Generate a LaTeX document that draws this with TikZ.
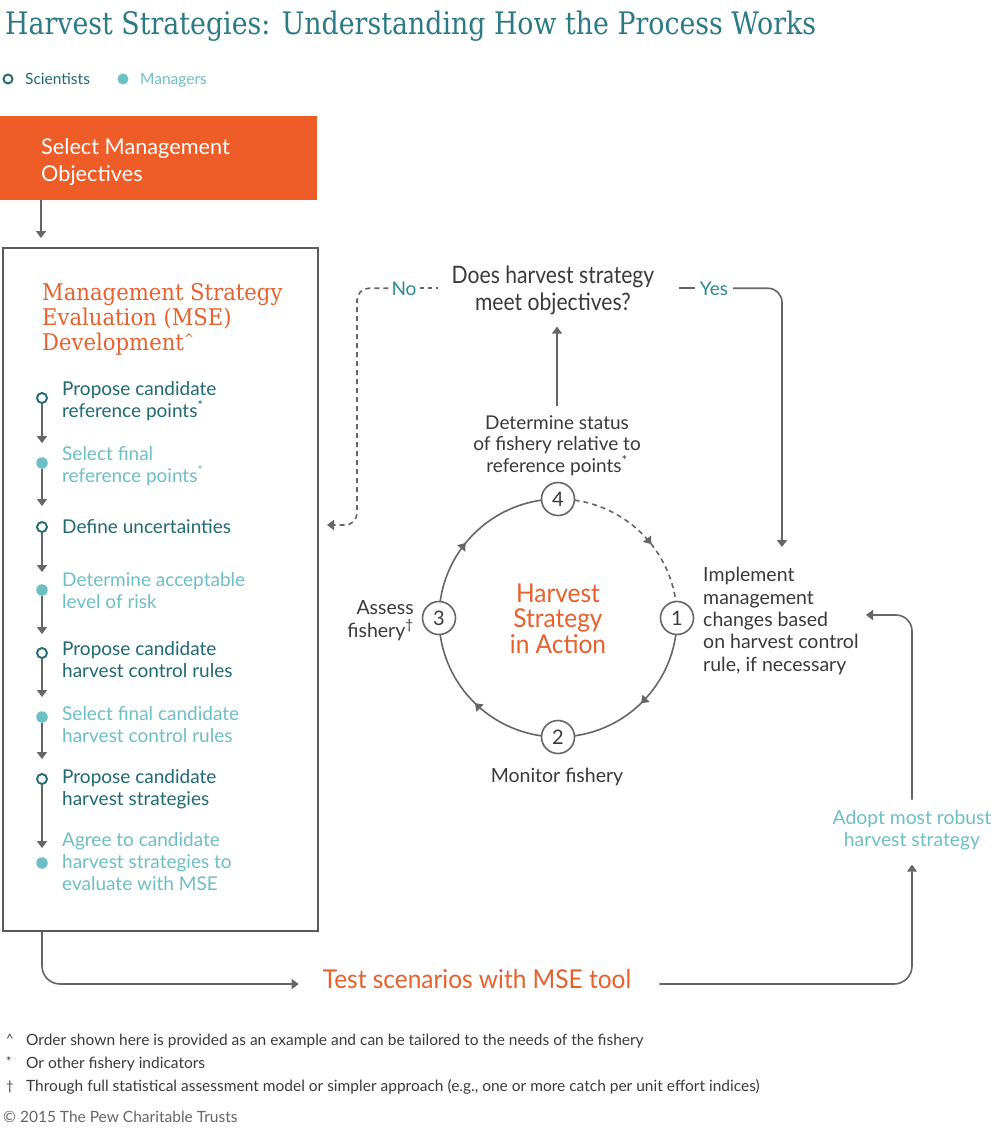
\documentclass[tikz,border=0pt]{standalone}
\usepackage{fontspec}
\setmainfont{Lato}
\newfontfamily\slabT[FakeStretch=0.865]{DejaVu Serif}
\newfontfamily\slabH[FakeStretch=0.92]{DejaVu Serif}
\newfontfamily\condA[FakeStretch=0.88]{Lato}
\newfontfamily\condT[FakeStretch=0.94]{Lato}
\usetikzlibrary{arrows.meta,calc,decorations.markings}
\definecolor{ttl}{HTML}{2A7B85}
\definecolor{sci}{HTML}{1F6A73}
\definecolor{mgr}{HTML}{6DBFC6}
\definecolor{nyc}{HTML}{2C8A93}
\definecolor{org}{HTML}{E8602C}
\definecolor{orgfill}{HTML}{EE5D28}
\definecolor{lgrey}{HTML}{666666}
\definecolor{boxline}{HTML}{5A5A5A}
\definecolor{txt}{HTML}{3A3A3A}
\begin{document}
\begin{tikzpicture}[x=1pt,y=1pt,
  ln/.style={draw=lgrey, line width=1.6pt},
  arr/.style={ln, -{Triangle[width=10pt,length=7pt]}},
  dsh/.style={ln, dash pattern=on 5pt off 4pt},
  dsharr/.style={dsh, -{Triangle[width=10pt,length=7pt]}},
  sciopen/.style={circle, draw=sci, line width=1.9pt, fill=white, minimum size=10pt, inner sep=0pt},
  mgrdot/.style={circle, fill=mgr, minimum size=11.5pt, inner sep=0pt},
  itemtxt/.style={anchor=base west, align=left, inner sep=0pt, font=\fontsize{19}{22}\selectfont},
  num/.style={circle, draw=lgrey, line width=1.6pt, fill=white, minimum size=33pt, inner sep=0pt, text=txt, font=\fontsize{20}{24}\selectfont},
  body/.style={inner sep=0pt, text=txt, font=\fontsize{19.5}{22.3}\selectfont},
  foot/.style={anchor=base west, inner sep=0pt, text=txt, font=\fontsize{15.5}{18}\selectfont},
  footsym/.style={anchor=base west, inner sep=0pt, text=txt, font=\fontsize{13}{15}\selectfont},
  arcmark/.style={ln, postaction={decorate}, decoration={markings, mark=at position #1 with {\arrow{Triangle[width=10pt,length=7pt]}}}}
]
\fill[white] (0,0) rectangle (1001,-1129);
\useasboundingbox (0,0) rectangle (1001,-1129);

% title
\node[anchor=base west, inner sep=0pt, text=ttl, font=\slabT\fontsize{31}{36}\selectfont] (title) at (5,-35) {Harvest Strategies: Understanding How the Process Works};

% legend
\node[sciopen, minimum size=9pt] (lgs) at (8,-79) {};
\node[anchor=base west, inner sep=0pt, text=sci, font=\fontsize{15.5}{18}\selectfont] (lgst) at (25,-85) {Scientists};
\node[mgrdot, minimum size=11pt] (lgm) at (123,-79) {};
\node[anchor=base west, inner sep=0pt, text=mgr, font=\fontsize{15.5}{18}\selectfont] (lgmt) at (140,-85) {Managers};

% objectives box
\node[fill=orgfill, anchor=north west, minimum width=317pt, minimum height=84pt, inner sep=0pt] (obj) at (0,-116) {};
\node[anchor=base west, align=left, inner sep=0pt, text=white, font=\fontsize{21.7}{27}\selectfont] (objt) at (41,-181) {Select Management\\Objectives};

% MSE box
\node[draw=boxline, line width=1.8pt, minimum width=315pt, minimum height=683pt, anchor=north west, inner sep=0pt] (mse) at (2,-247) {};
\draw[arr] ([xshift=41pt]obj.south west) -- ([xshift=39pt,yshift=9pt]mse.north west);

\node[anchor=base west, align=left, inner sep=0pt, text=org, font=\slabH\fontsize{23}{25}\selectfont] (mseh) at (42,-350) {Management Strategy\\Evaluation (MSE)\\Development{\fontsize{13}{15}\selectfont\raisebox{7pt}{\textasciicircum}}};

% list items
\node[sciopen] (m1) at (42,-398) {};
\node[mgrdot] (m2) at (42,-463) {};
\node[sciopen] (m3) at (42,-527) {};
\node[mgrdot] (m4) at (42,-590) {};
\node[sciopen] (m5) at (42,-653) {};
\node[mgrdot] (m6) at (42,-717) {};
\node[sciopen] (m7) at (42,-779) {};
\node[mgrdot] (m8) at (42,-863) {};

\node[itemtxt, text=sci] (t1) at (62,-417) {Propose candidate\\reference points\textsuperscript{*}};
\node[itemtxt, text=mgr] (t2) at (62,-482) {Select final\\reference points\textsuperscript{*}};
\node[itemtxt, text=sci] (t3) at (62,-533) {Define uncertainties};
\node[itemtxt, text=mgr] (t4) at (62,-608) {Determine acceptable\\level of risk};
\node[itemtxt, text=sci] (t5) at (62,-677) {Propose candidate\\harvest control rules};
\node[itemtxt, text=mgr] (t6) at (62,-742) {Select final candidate\\harvest control rules};
\node[itemtxt, text=sci] (t7) at (62,-805) {Propose candidate\\harvest strategies};
\node[itemtxt, text=mgr] (t8) at (62,-890) {Agree to candidate\\harvest strategies to\\evaluate with MSE};

\draw[arr, shorten >=14pt] (m1) -- (m2);
\draw[arr, shorten >=15pt] (m2) -- (m3);
\draw[arr, shorten >=12pt] (m3) -- (m4);
\draw[arr, shorten >=13pt] (m4) -- (m5);
\draw[arr, shorten >=14pt] (m5) -- (m6);
\draw[arr, shorten >=14pt] (m6) -- (m7);
\draw[arr, shorten >=9pt] (m7) -- (m8);

% question
\node[anchor=base, align=center, inner sep=0pt, text=txt, font=\condA\fontsize{24}{27}\selectfont] (q) at (553,-310) {Does harvest strategy\\meet objectives?};
\node[anchor=base, inner sep=3pt, text=nyc, font=\fontsize{19}{22}\selectfont] (no) at (404,-295) {No};
\node[anchor=base, inner sep=5pt, text=nyc, font=\fontsize{19}{22}\selectfont] (yes) at (714,-295) {Yes};
\coordinate (nocorner) at (357,-525);
\coordinate (noend) at (327,-525);
\coordinate (yesend) at (782,-547);
\draw[dash pattern=on 4pt off 4pt, draw=lgrey, line width=1.6pt, shorten >=14pt] (no.east) -- (no.east -| q.west);
\draw[dsharr, rounded corners=12pt] (no.west) -| (nocorner) -- (noend);
\draw[ln] ([xshift=25pt]q.east |- yes.west) -- (yes.west);
\draw[arr, rounded corners=14pt] (yes.east) -| (yesend);

% status
\node[anchor=base, align=center, inner sep=0pt, text=txt, font=\fontsize{19}{21.5}\selectfont] (status) at (557,-472) {Determine status\\of fishery relative to\\reference points\textsuperscript{*}};
\draw[arr, shorten <=9pt, shorten >=12pt] (status.north) -- (status.north |- q.south);

% cycle
\coordinate (C) at (558,-618);
\draw[arcmark=0.42] ($(C)+(172:119)$) arc[start angle=172, end angle=98, radius=119];
\draw[arcmark=0.59, dash pattern=on 5pt off 4pt] ($(C)+(82:119)$) arc[start angle=82, end angle=8, radius=119];
\draw[arcmark=0.51] ($(C)+(-8:119)$) arc[start angle=-8, end angle=-82, radius=119];
\draw[arcmark=0.49] ($(C)+(-98:119)$) arc[start angle=-98, end angle=-172, radius=119];
\node[num] (n1) at ($(C)+(0:119)$) {1};
\node[num] (n2) at ($(C)+(-90:119)$) {2};
\node[num] (n3) at ($(C)+(180:119)$) {3};
\node[num] (n4) at ($(C)+(90:119)$) {4};

\node[anchor=base, align=center, inner sep=0pt, text=org, font=\condT\fontsize{26}{25.5}\selectfont] (hs) at (558,-653) {Harvest\\Strategy\\in Action};
\node[anchor=base east, align=right, body] (assess) at (414,-637) {Assess\\fishery\textsuperscript{\dag}};
\node[anchor=base, body] (monitor) at (557,-782) {Monitor fishery};
\node[anchor=base west, align=left, body] (impl) at (703,-671) {Implement\\management\\changes based\\on harvest control\\rule, if necessary};

% test and adopt
\coordinate (busy) at (0,-984);
\coordinate (implin) at (866,-615);
\node[anchor=base, inner sep=0pt, text=org, font=\condT\fontsize{26}{28}\selectfont] (test) at (477,-988) {Test scenarios with MSE tool};
\node[anchor=base, align=center, inner sep=0pt, text=mgr, font=\fontsize{19.3}{22}\selectfont] (adopt) at (912,-846) {Adopt most robust\\harvest strategy};
\draw[arr, rounded corners=18pt, shorten >=24pt] ([xshift=40pt]mse.south west) |- (test.west |- busy);
\draw[arr, rounded corners=18pt, shorten <=28pt, shorten >=15pt] (test.east |- busy) -| (adopt.south);
\draw[arr, rounded corners=16pt, shorten <=10pt] (adopt.north) |- (implin);

% footnotes
\node[footsym] (f1s) at (6,-1043) {\textasciicircum};
\node[foot] (f1) at (26,-1045) {Order shown here is provided as an example and can be tailored to the needs of the fishery};
\node[footsym] (f2s) at (6,-1066) {*};
\node[foot] (f2) at (26,-1068) {Or other fishery indicators};
\node[footsym] (f3s) at (6,-1090) {\dag};
\node[foot] (f3) at (26,-1091) {Through full statistical assessment model or simpler approach (e.g., one or more catch per unit effort indices)};
\node[foot, text=lgrey] (copy) at (3,-1122) {© 2015 The Pew Charitable Trusts};
\end{tikzpicture}
\end{document}
